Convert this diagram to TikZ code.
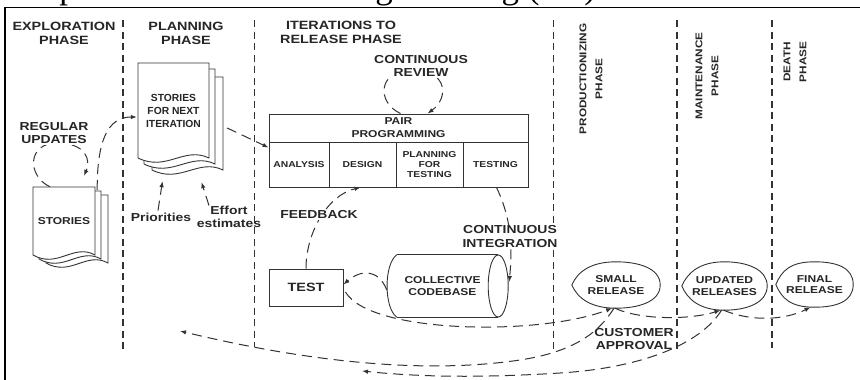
\documentclass[tikz,border=0pt]{standalone}
\usepackage{fontspec}
\usetikzlibrary{arrows.meta,calc}
\newfontfamily\hdfont{Liberation Sans}[FakeStretch=1.2]
\newfontfamily\hdnarrow{Liberation Sans}
\newfontfamily\capfont{Liberation Serif}
\definecolor{ink}{HTML}{262626}
\definecolor{wire}{HTML}{333333}

\tikzset{
  base/.style={text=ink, align=center, inner sep=1pt},
  phase/.style={base, font=\hdfont\bfseries\fontsize{12}{14}\selectfont},
  vphase/.style={base, rotate=90, font=\hdfont\bfseries\fontsize{9.8}{16}\selectfont},
  note/.style={base, fill=white, font=\hdfont\bfseries\fontsize{11.6}{13.4}\selectfont},
  plain/.style={base, font=\hdfont\bfseries\fontsize{11.6}{13}\selectfont},
  boxline/.style={draw=wire, line width=0.9pt},
  cell/.style={base, boxline, font=\hdfont\bfseries\fontsize{8.6}{10}\selectfont},
  rel/.style={base, font=\hdfont\bfseries\fontsize{10}{11.5}\selectfont},
  doclbl/.style={base, font=\hdnarrow\bfseries\fontsize{10.3}{13}\selectfont},
  pageline/.style={draw=wire, line width=0.9pt, fill=white},
  divider/.style={draw=wire, line width=1.1pt, dash pattern=on 7pt off 4.5pt},
  flow/.style={draw=wire, line width=1pt, dash pattern=on 10pt off 6pt,
    -{Latex[length=6pt,width=4.5pt]}},
}

% one sheet of a document stack: left, top, right, wavy bottom
\newcommand\sheet[4]{%
  \pgfmathsetmacro\sheetw{(#3)-(#1)}%
  \draw[pageline] (#1,#2) -- (#3,#2) -- (#3,#4)
    .. controls ({#3-0.35*\sheetw},{#4-12}) and ({#1+0.4*\sheetw},{#4+14}) .. (#1,#4) -- cycle;}

% outline of a release bubble around a named node
\newcommand\releaseoutline[1]{%
  \draw[boxline] (#1.west) .. controls ($(#1.west)+(6,-14)$) and ($(#1.north)+(-24,0)$) .. (#1.north)
    .. controls ($(#1.north)+(22,0)$) and ($(#1.east)+(0,-17)$) .. (#1.east)
    .. controls ($(#1.east)+(0,17)$) and ($(#1.south)+(22,0)$) .. (#1.south)
    .. controls ($(#1.south)+(-24,0)$) and ($(#1.west)+(6,14)$) .. (#1.west) -- cycle;}

\begin{document}
\begin{tikzpicture}[x=1pt,y=-1pt]
\useasboundingbox (0,0) rectangle (860,380);
\fill[white] (0,0) rectangle (860,380);

% caption above the frame: only its lowest strip falls inside the page
\begin{scope}
  \clip (0,0) rectangle (860,7);
  \node[anchor=base west, inner sep=0, text=black,
        font=\capfont\fontsize{35}{40}\selectfont] (caption) at (-4,-1.5)
    {The phases of Extreme Programming (XP)};
\end{scope}
\draw[black, line width=1.4pt] (860,7.5) -- (5,7.5) -- (5,380);

% phase dividers
\draw[divider] (123,20) -- (123,350);
\draw[divider] (254.5,20) -- (254.5,347);
\draw[divider] (553.5,20) -- (553.5,350);
\draw[divider] (677,20) -- (677,350);
\draw[divider] (772,20) -- (772,348);

% phase headings
\node[phase] (hexp) at (64,33) {EXPLORATION\\PHASE};
\node[phase] (hplan) at (186,33) {PLANNING\\PHASE};
\node[phase] (hiter) at (341,32) {ITERATIONS TO\\RELEASE PHASE};
\node[vphase] (hprod) at (591,79) {PRODUCTIONIZING\\PHASE};
\node[vphase] (hmaint) at (707,76) {MAINTENANCE\\PHASE};
\node[vphase] (hdeath) at (795,62) {DEATH\\PHASE};

% story stacks
\sheet{46}{195}{108}{263}
\sheet{39}{191}{101}{259}
\sheet{33}{187}{95}{255}
\node[base, font=\hdfont\bfseries\fontsize{10}{12}\selectfont,
      minimum width=62pt, minimum height=68pt] (stories) at (64,221) {STORIES};

\sheet{152}{77}{223}{170}
\sheet{144}{69}{215}{164}
\sheet{138}{63}{209}{158}
\node[doclbl, minimum width=71pt, minimum height=95pt] (nextit) at (173.5,110.5)
  {STORIES\\FOR NEXT\\ITERATION};

\node[plain] (prio) at (161,217) {Priorities};
\node[plain] (eff) at (229,216.5) {Effort\\estimates};

% pair programming block
\node[cell, font=\hdfont\bfseries\fontsize{10}{13}\selectfont,
      minimum width=259pt, minimum height=28pt] (pp) at (398.5,128) {PAIR\\PROGRAMMING};
\node[cell, minimum width=60pt, minimum height=45pt] (analysis) at (299,164.5) {ANALYSIS};
\node[cell, minimum width=67pt, minimum height=45pt] (design) at (362.5,164.5) {DESIGN};
\node[cell, minimum width=67pt, minimum height=45pt] (planfortest) at (429.5,164.5) {PLANNING\\FOR\\TESTING};
\node[cell, minimum width=65pt, minimum height=45pt] (testing) at (495.5,164.5) {TESTING};

% test and collective codebase
\node[cell, font=\hdfont\bfseries\fontsize{12}{14}\selectfont,
      minimum width=74pt, minimum height=37pt] (test) at (306,287.5) {TEST};
\node[rel, minimum width=111pt, minimum height=62pt] (cb) at (442.5,286) {COLLECTIVE\\CODEBASE};
\draw[boxline] ($(cb.north west)+(10,0)$) -- (cb.north east);
\draw[boxline] ($(cb.south west)+(10,0)$) -- (cb.south east);
\draw[boxline] ($(cb.north west)+(10,0)$) .. controls ($(cb.west)+(-3,-22)$) and ($(cb.west)+(-3,22)$) .. ($(cb.south west)+(10,0)$);
\draw[boxline] (cb.east) ellipse[x radius=10pt, y radius=31pt];

% releases
\node[rel, minimum width=88pt, minimum height=46pt] (small) at (616,285) {SMALL\\RELEASE};
\node[rel, minimum width=85pt, minimum height=48pt] (updated) at (724.5,286) {UPDATED\\RELEASES};
\node[rel, minimum width=77pt, minimum height=45pt] (final) at (814.5,284.5) {FINAL\\RELEASE};
\releaseoutline{small}
\releaseoutline{updated}
\releaseoutline{final}

% flows
\draw[flow] ($(stories.north)+(-14,0)$) .. controls (27,176) and (27,143) .. (57,143)
  .. controls (86,143) and (91,160) .. ($(stories.north)+(20,-11)$);
\draw[flow] ($(stories.north east)+(2,3)$) .. controls (97,140) and (108,117) .. ($(nextit.west)+(-1,6.5)$);
\draw[flow] ($(nextit.east)+(18,17.5)$) -- ($(analysis.north west)+(0,6)$);
\draw[flow] ($(prio.north)+(-3,-1)$) -- ($(nextit.south)+(-11,23)$);
\draw[flow] ($(eff.north)+(-20,1)$) -- ($(nextit.south)+(28,24)$);

\draw[flow] ($(pp.north)+(2,0)$) .. controls (376,102) and (378,70) .. (412,70)
  .. controls (448,70) and (449,98) .. ($(pp.north)+(29,0)$);
\draw[flow] (test.north) .. controls (306,232) and (328,195) .. ($(design.south)+(-2,0)$);
\draw[flow] ($(testing.south)+(1,0)$) .. controls (513,222) and (512,252) .. ($(cb.east)+(11,-4)$);
\draw[flow] ($(cb.west)+(0,4)$) .. controls (378,268) and (360,270) .. ($(test.east)+(0,-3)$);
\draw[flow] ($(test.east)+(2,4.5)$) .. controls (370,334) and (540,336) .. ($(small.south)+(-4,0)$);
\draw[flow] ($(small.south)+(-1,0)$) .. controls (640,320) and (690,320) .. ($(updated.south)+(-4,0)$);
\draw[flow] ($(updated.south)+(-1,0)$) .. controls (752,322) and (785,320) .. ($(final.south)+(-4,0)$);

\coordinate (planback) at (180,331);
\coordinate (iterback) at (362,371);
\draw[flow] ($(small.south)+(-2,0)$) .. controls (598,334) and (572,352) .. (520,360)
  .. controls (420,375) and (300,360) .. (planback);
\draw[flow] ($(updated.south)+(-3,0)$) .. controls (700,345) and (640,368) .. (560,373)
  .. controls (480,378) and (420,377) .. (iterback);

% flow labels
\node[note] (ru) at (54,133) {REGULAR\\UPDATES};
\node[note] (rev) at (421,66) {CONTINUOUS\\REVIEW};
\node[note] (fb) at (319,215) {FEEDBACK};
\node[note] (ci) at (510,236.5) {CONTINUOUS\\INTEGRATION};
\node[plain] (ca) at (634,339.5) {CUSTOMER\\APPROVAL};
\end{tikzpicture}
\end{document}
